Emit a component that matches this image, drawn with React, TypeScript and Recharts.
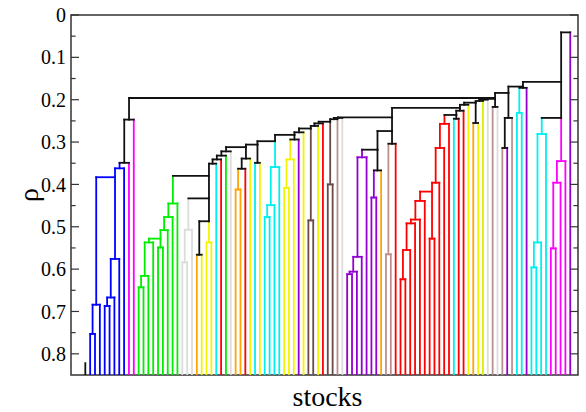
import { ComposedChart, Line, XAxis, YAxis, ReferenceArea, ReferenceLine } from "recharts";

// x runs over leaf slots (one per stock), y is rho (0 at the top)
const X_MIN = -2.95;
const X_MAX = 101.6;
const RHO_MAX = 0.85;

const sectorColors: Record<string, string> = {
  K: "#111111", // mixed sectors
  B: "#0000ff",
  M: "#ff00ff",
  G: "#00ee00",
  L: "#dcdcdc",
  O: "#ffa500",
  Y: "#f4f400",
  C: "#00f0f0",
  R: "#ff0000",
  P: "#9400d3",
  D: "#6a4a48",
  S: "#bc8f8f",
  V: "#d4f000",
};

// sector letter of every stock, in leaf order
const leafSectors =
  "K" + "BBBBBBBB" + "MM" + "GGGGGGGGG" + "LLL" + "O" + "YYY" + "C" + "R" + "G" + "L" +
  "OO" + "R" + "Y" + "C" + "Y" + "CCCC" + "YYY" + "P" + "Y" + "DD" + "Y" + "R" + "DD" +
  "S" + "L" + "PPPPPPP" + "O" + "SS" + "R" + "RRRRRRRRRRR" + "C" + "RR" + "Y" + "O" +
  "Y" + "V" + "L" + "S" + "L" + "S" + "P" + "S" + "CC" + "P" + "CCCC" + "MMMM" + "P";

// stock left out of the tree, drawn as a short stub
const isolatedLeaves = [0];
const isolatedTops = [0.822];

// merges: [node, left, right, rho]; numbers are stocks, strings earlier nodes
const links: [string, number | string, number | string, number][] = [
  ["b1", 1, 2, 0.753],
  ["b2", "b1", 3, 0.684],
  ["b3", 4, 5, 0.687],
  ["b4", "b3", 6, 0.667],
  ["b5", "b4", 7, 0.576],
  ["b6", "b2", "b5", 0.383],
  ["b7", "b6", 8, 0.362],
  ["b8", "b7", 9, 0.349],
  ["b9", "b8", 10, 0.247],
  ["g1", 11, 12, 0.643],
  ["g2", "g1", 13, 0.616],
  ["g3", "g2", 14, 0.537],
  ["g4", 15, 16, 0.549],
  ["g5", "g3", "g4", 0.528],
  ["g6", "g5", 17, 0.508],
  ["g7", "g6", 18, 0.477],
  ["g8", "g7", 19, 0.445],
  ["l1", 20, 21, 0.584],
  ["l2", "l1", 22, 0.507],
  ["o1", 23, 24, 0.566],
  ["y1", 25, 26, 0.537],
  ["o2", "o1", "y1", 0.487],
  ["l3", "l2", "o2", 0.433],
  ["c0", "g8", "l3", 0.38],
  ["c1", "c0", 27, 0.351],
  ["c2", "c1", 28, 0.341],
  ["c3", "c2", 29, 0.332],
  ["c4", "c3", 30, 0.322],
  ["o3", 31, 32, 0.412],
  ["o4", "o3", 33, 0.363],
  ["o5", "o4", 34, 0.339],
  ["c5", "c4", "o5", 0.312],
  ["x1", 35, 36, 0.349],
  ["c6", "c5", "x1", 0.306],
  ["cy1", 37, 38, 0.477],
  ["cy2", "cy1", 39, 0.449],
  ["cy3", "cy2", 40, 0.359],
  ["c7", "c6", "cy3", 0.298],
  ["y2", 41, 42, 0.408],
  ["y3", "y2", 43, 0.341],
  ["y4", "y3", 44, 0.294],
  ["c8", "c7", "y4", 0.283],
  ["c9", "c8", 45, 0.277],
  ["d1", 46, 47, 0.485],
  ["c10", "c9", "d1", 0.268],
  ["c11", "c10", 48, 0.262],
  ["c12", "c11", 49, 0.256],
  ["d2", 50, 51, 0.4],
  ["c13", "c12", "d2", 0.252],
  ["c14", "c13", 52, 0.246],
  ["c15", "c14", 53, 0.243],
  ["p1", 54, 55, 0.612],
  ["p2", "p1", 56, 0.606],
  ["p3", "p2", 57, 0.571],
  ["p4", "p3", 58, 0.336],
  ["p5", 59, 60, 0.431],
  ["p6", "p5", 61, 0.367],
  ["p7", "p4", "p6", 0.318],
  ["s1", 62, 63, 0.565],
  ["s2", "s1", 64, 0.304],
  ["p8", "p7", "s2", 0.274],
  ["m1", "c15", "p8", 0.2416],
  ["r1", 65, 66, 0.624],
  ["r2", "r1", 67, 0.555],
  ["r3", "r2", 68, 0.492],
  ["r4", "r3", 69, 0.483],
  ["r5", "r4", 70, 0.439],
  ["r6", 71, 72, 0.528],
  ["r7", "r5", "r6", 0.417],
  ["r8", "r7", 73, 0.396],
  ["r9", "r8", 74, 0.314],
  ["r10", "r9", 75, 0.257],
  ["r11", 76, 77, 0.245],
  ["r12", "r10", "r11", 0.236],
  ["r13", "r12", 78, 0.226],
  ["m2", "m1", "r13", 0.2195],
  ["t1", 80, 81, 0.255],
  ["m3", "m2", 79, 0.212],
  ["m4", "m3", "t1", 0.207],
  ["m5", "m4", 82, 0.203],
  ["m6", "m5", 83, 0.2],
  ["t2", 84, 85, 0.217],
  ["m7", "m6", "t2", 0.198],
  ["top", "b9", "m7", 0.196],
  ["s3", 86, 87, 0.314],
  ["s4", "s3", 88, 0.243],
  ["k1", "top", "s4", 0.184],
  ["q1", 89, 90, 0.231],
  ["q2", "q1", 91, 0.172],
  ["k2", "k1", "q2", 0.169],
  ["cy4", 92, 93, 0.596],
  ["cy5", "cy4", 94, 0.537],
  ["cy6", "cy5", 95, 0.281],
  ["mg1", 96, 97, 0.551],
  ["mg2", "mg1", 98, 0.396],
  ["mg3", "mg2", 99, 0.345],
  ["k3", "cy6", "mg3", 0.243],
  ["k4", "k2", "k3", 0.158],
  ["root", "k4", 100, 0.041],
];

const rhoTicks = [0, 0.1, 0.2, 0.3, 0.4, 0.5, 0.6, 0.7, 0.8];
const rhoMinorTicks = [0.05, 0.15, 0.25, 0.35, 0.45, 0.55, 0.65, 0.75];

type Pt = { x: number; y: number };
type Seg = { key: string; color: string; pts: Pt[] };
type Node = { x: number; h: number; sector: string; leaf: boolean };

function buildSegments() {
  const nodes: Record<string, Node> = {};
  const get = (ref: number | string): Node =>
    typeof ref === "number"
      ? { x: ref, h: RHO_MAX, sector: leafSectors[ref], leaf: true }
      : nodes[ref];
  const legs: Seg[] = [];
  const bars: Seg[] = [];
  links.forEach(([name, l, r, h]) => {
    const a = get(l);
    const b = get(r);
    const sector = a.sector === b.sector ? a.sector : "K";
    legs.push({ key: name + "-a", color: sectorColors[a.sector], pts: [{ x: a.x, y: a.h }, { x: a.x, y: h }] });
    legs.push({ key: name + "-b", color: sectorColors[b.sector], pts: [{ x: b.x, y: b.h }, { x: b.x, y: h }] });
    bars.push({ key: name + "-h", color: sectorColors[sector], pts: [{ x: a.x, y: h }, { x: b.x, y: h }] });
    // node sits in the middle when a leaf is involved, else over the right branch
    nodes[name] = { x: a.leaf || b.leaf ? (a.x + b.x) / 2 : b.x, h, sector, leaf: false };
  });
  isolatedLeaves.forEach((leaf, i) => {
    legs.push({
      key: "iso" + leaf,
      color: sectorColors[leafSectors[leaf]],
      pts: [{ x: leaf, y: RHO_MAX }, { x: leaf, y: isolatedTops[i] }],
    });
  });
  return [...legs, ...bars];
}

const segments = buildSegments();
const MAJOR = 1.65;
const MINOR = 0.95;
const FRAME = "#333333";
const serif = "'Liberation Serif', 'Times New Roman', serif";

export default function App() {
  return (
    <div style={{ position: "absolute", left: 0, top: 0, background: "#fff" }}>
      <ComposedChart width={586} height={412} margin={{ top: 15, right: 8, bottom: 0, left: 0 }}>
        <XAxis
          type="number"
          dataKey="x"
          domain={[X_MIN, X_MAX]}
          allowDataOverflow
          tick={false}
          tickLine={false}
          axisLine={false}
          height={37}
          label={{ value: "stocks", position: "insideBottom", offset: 6, dx: 3, fontSize: 28, fill: "#000", fontFamily: serif }}
        />
        <YAxis
          type="number"
          dataKey="y"
          domain={[0, RHO_MAX]}
          reversed
          allowDataOverflow
          ticks={rhoTicks}
          interval={0}
          width={71}
          tickLine={false}
          axisLine={false}
          tickSize={0}
          tickMargin={5}
          tick={{ fontSize: 20, fill: "#000", fontFamily: serif }}
          label={{ value: "ρ", angle: -90, position: "center", dx: -7, fontSize: 28, fill: "#000", fontFamily: serif }}
        />
        {segments.map((s) => (
          <Line
            key={s.key}
            data={s.pts}
            dataKey="y"
            type="linear"
            stroke={s.color}
            strokeWidth={1.8}
            strokeLinecap="square"
            dot={false}
            activeDot={false}
            legendType="none"
            isAnimationActive={false}
          />
        ))}
        {rhoTicks.concat(rhoMinorTicks).map((t) => {
          const len = rhoTicks.includes(t) ? MAJOR : MINOR;
          return [
            <ReferenceLine
              key={"l" + t}
              segment={[{ x: X_MIN, y: t }, { x: X_MIN + len, y: t }]}
              stroke={FRAME}
              strokeWidth={1.2}
              ifOverflow="visible"
            />,
            <ReferenceLine
              key={"r" + t}
              segment={[{ x: X_MAX - len, y: t }, { x: X_MAX, y: t }]}
              stroke={FRAME}
              strokeWidth={1.2}
              ifOverflow="visible"
            />,
          ];
        })}
        <ReferenceArea
          x1={X_MIN}
          x2={X_MAX}
          y1={0}
          y2={RHO_MAX}
          fill="none"
          fillOpacity={0}
          stroke={FRAME}
          strokeWidth={1.5}
          ifOverflow="visible"
        />
      </ComposedChart>
    </div>
  );
}
